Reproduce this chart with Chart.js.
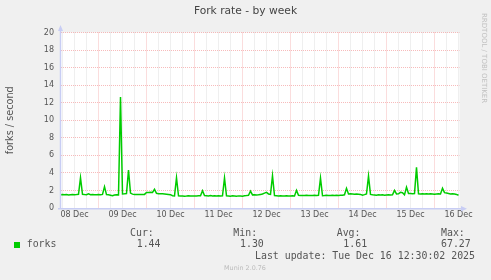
<!DOCTYPE html>
<html><head><meta charset="utf-8">
<script src="https://cdn.jsdelivr.net/npm/chart.js@4"></script>
<style>html,body{margin:0;padding:0;background:#F0F0F0;} canvas{display:block}</style>
</head><body>
<canvas id="c" width="491" height="280"></canvas>
<script>
const titleText = 'Fork rate - by week';
const yAxisTitle = 'forks / second';
// hours since 08 Dec 00:00, first sample at 05:00, one sample per hour
const startHour = 5;
const forks = [
  1.52,1.55,1.50,1.53,1.48,1.52,1.55,1.52,1.53,1.55,
  3.45,1.55,1.53,1.52,1.62,1.52,1.53,1.52,1.52,1.53,
  1.52,1.55,2.43,1.52,1.50,1.45,1.40,1.48,1.52,1.50,
  12.64,1.60,1.62,1.65,4.33,1.70,1.58,1.55,1.55,1.55,
  1.55,1.55,1.55,1.78,1.78,1.80,1.78,2.13,1.68,1.63,
  1.63,1.62,1.60,1.58,1.55,1.52,1.40,1.38,3.45,1.40,
  1.37,1.38,1.35,1.37,1.40,1.37,1.38,1.37,1.38,1.40,
  1.40,1.97,1.42,1.40,1.38,1.42,1.38,1.40,1.37,1.40,
  1.38,1.40,3.42,1.40,1.38,1.35,1.40,1.37,1.33,1.38,
  1.37,1.35,1.40,1.42,1.45,1.93,1.50,1.52,1.48,1.50,
  1.55,1.60,1.70,1.78,1.60,1.55,3.68,1.42,1.40,1.38,
  1.40,1.37,1.38,1.40,1.37,1.38,1.40,1.38,2.01,1.45,
  1.42,1.43,1.42,1.44,1.42,1.43,1.42,1.44,1.42,1.45,
  3.42,1.40,1.42,1.45,1.43,1.42,1.45,1.43,1.45,1.42,
  1.44,1.45,1.50,2.24,1.60,1.62,1.60,1.58,1.60,1.58,
  1.55,1.45,1.52,1.60,3.64,1.55,1.50,1.48,1.45,1.50,
  1.48,1.50,1.45,1.48,1.50,1.48,1.50,2.01,1.60,1.62,
  1.78,1.75,1.50,2.36,1.65,1.65,1.62,1.65,4.63,1.62,
  1.60,1.62,1.60,1.63,1.60,1.62,1.60,1.58,1.60,1.62,
  1.60,2.24,1.75,1.70,1.65,1.60,1.62,1.60,1.55,1.45
];
const dayLabels = ['08 Dec','09 Dec','10 Dec','11 Dec','12 Dec','13 Dec','14 Dec','15 Dec','16 Dec'];
const yTickLabels = ['0','2','4','6','8','10','12','14','16','18','20'];
const legendHeads = ['Cur:','Min:','Avg:','Max:'];
const legendValues = ['1.44','1.30','1.61','67.27'];
const seriesName = 'forks';
const lastUpdate = 'Last update: Tue Dec 16 12:30:02 2025';
const footer = 'Munin 2.0.76';
const watermark = 'RRDTOOL / TOBI OETIKER';

const xMin = 5, xMax = 204.5;
const xTickHours = [];
for (let h = 6; h <= 204; h += 6) xTickHours.push(h);

const points = forks.map((v, i) => ({x: startHour + i, y: v}));

const AXIS = '#C8CDF4';
const MAJOR = 'rgba(240,120,120,0.5)';
const MINOR = 'rgba(170,170,170,0.38)';

const decor = {
  id: 'decor',
  beforeDraw(chart) {
    const {ctx, chartArea: a} = chart;
    ctx.save();
    ctx.fillStyle = '#FFFFFF';
    ctx.fillRect(a.left, a.top, a.right - a.left, a.bottom - a.top);
    ctx.restore();
  },
  afterDraw(chart) {
    const {ctx, chartArea: a} = chart;
    ctx.save();
    // axes
    ctx.strokeStyle = AXIS; ctx.lineWidth = 1.5;
    ctx.beginPath();
    ctx.moveTo(60.5, a.bottom + 0.5); ctx.lineTo(60.5, 29);
    ctx.moveTo(58, a.bottom + 0.75); ctx.lineTo(462, a.bottom + 0.75);
    ctx.stroke();
    ctx.fillStyle = AXIS;
    ctx.beginPath(); ctx.moveTo(58, 31); ctx.lineTo(63, 31); ctx.lineTo(60.5, 25); ctx.closePath(); ctx.fill();
    ctx.beginPath(); ctx.moveTo(461, a.bottom - 2); ctx.lineTo(461, a.bottom + 3.5); ctx.lineTo(467, a.bottom + 0.75); ctx.closePath(); ctx.fill();

    // legend
    ctx.fillStyle = '#555';
    ctx.font = '9.9px "DejaVu Sans Mono"';
    ctx.textBaseline = 'middle';
    ctx.textAlign = 'left';
    const headX = [130, 233.3, 336.7, 441];
    const valX = [136.7, 240, 343.3, 441];
    legendHeads.forEach((t, i) => ctx.fillText(t, headX[i], 233.5));
    legendValues.forEach((t, i) => ctx.fillText(t, valX[i], 244.8));
    ctx.fillText(seriesName, 26.7, 244.8);
    ctx.fillText(lastUpdate, 255, 256.3);
    ctx.fillStyle = '#00CC00';
    ctx.fillRect(14, 242, 6, 6);

    ctx.fillStyle = '#BBBBBB';
    ctx.font = '6.4px "DejaVu Sans"';
    ctx.textAlign = 'center';
    ctx.fillText(footer, 245, 268.3);

    ctx.translate(484, 13);
    ctx.rotate(Math.PI / 2);
    ctx.font = '7px "DejaVu Sans"';
    ctx.textAlign = 'left';
    ctx.fillStyle = '#C0C0C0';
    ctx.fillText(watermark, 0, 0);
    ctx.restore();
  }
};

Chart.defaults.font.family = '"DejaVu Sans"';

new Chart(document.getElementById('c'), {
  type: 'line',
  data: {
    datasets: [{
      label: seriesName,
      data: points,
      borderColor: '#00CC00',
      borderWidth: 1.5,
      pointRadius: 0,
      tension: 0,
      fill: false
    }]
  },
  options: {
    responsive: false,
    devicePixelRatio: 1,
    animation: false,
    layout: {padding: {left: 0, right: 0, top: 0, bottom: 0}},
    plugins: {
      legend: {display: false},
      tooltip: {enabled: false},
      title: {
        display: true,
        text: titleText,
        color: '#444',
        font: {family: '"DejaVu Sans"', size: 10.7, weight: 'normal', lineHeight: 1.2},
        padding: {top: 5, bottom: 14.66}
      }
    },
    scales: {
      x: {
        type: 'linear',
        min: xMin, max: xMax,
        afterBuildTicks: s => { s.ticks = xTickHours.map(v => ({value: v})); },
        afterFit: s => { s.height = 72; },
        ticks: {
          autoSkip: false, maxRotation: 0, padding: 2.5,
          color: '#555', font: {size: 8},
          callback: v => (v % 24 === 12 ? dayLabels[(v - 12) / 24] : '')
        },
        grid: {
          drawTicks: false,
          color: c => (c.tick && c.tick.value % 24 === 0 ? MAJOR : MINOR),
          lineWidth: 1
        },
        border: {display: false, dash: [1, 1]}
      },
      y: {
        min: 0, max: 20,
        afterFit: s => { s.width = 60.5; },
        ticks: {
          stepSize: 1, padding: 6.5,
          color: '#555', font: {size: 8},
          callback: v => (v % 2 === 0 ? yTickLabels[v / 2] : '')
        },
        grid: {
          drawTicks: false,
          color: c => (c.tick && c.tick.value % 2 === 0 ? MAJOR : MINOR),
          lineWidth: 1
        },
        border: {display: false, dash: [1, 1]},
        title: {
          display: true, text: yAxisTitle, color: '#555',
          font: {size: 9.7, lineHeight: 1.2},
          padding: {top: 4.3, bottom: 0}
        }
      },
      right: {
        position: 'right',
        display: true,
        afterFit: s => { s.width = 31.5; },
        ticks: {display: false},
        grid: {display: false},
        border: {display: false}
      }
    }
  },
  plugins: [decor]
});
</script>
</body></html>
